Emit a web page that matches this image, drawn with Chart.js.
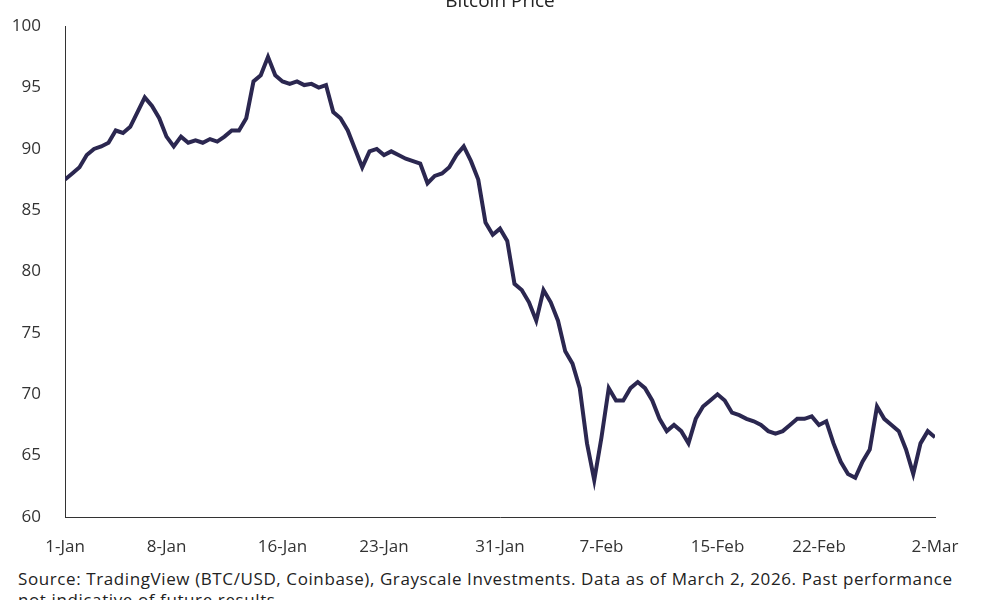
<!DOCTYPE html>
<html><head><meta charset="utf-8">
<script src="https://cdn.jsdelivr.net/npm/chart.js@4"></script>
<style>
body{margin:0;background:#fff;width:1000px;height:600px;overflow:hidden;position:relative;font-family:"Open Sans",sans-serif}
#t{position:absolute;top:-13px;left:0;width:1000px;text-align:center;font-size:19px;color:#222}
#s{position:absolute;top:568px;left:18px;font-size:17px;letter-spacing:0.6px;color:#222;line-height:21px;white-space:nowrap}
#w{position:absolute;top:0;left:0;width:1000px;height:557px}
</style></head><body>
<div id="w"><canvas id="c"></canvas></div>
<div id="t">Bitcoin Price</div>
<div id="s">Source: TradingView (BTC/USD, Coinbase), Grayscale Investments. Data as of March 2, 2026. Past performance<br>not indicative of future results.</div>
<script>
const tickDays=[0,7,15,22,30,37,45,52,60];
const tickLabels=["1-Jan","8-Jan","16-Jan","23-Jan","31-Jan","7-Feb","15-Feb","22-Feb","2-Mar"];
const prices=[87.5,88,88.5,89.5,90,90.2,90.5,91.5,91.3,91.8,93,94.2,93.5,92.5,91,90.2,91,90.5,90.7,90.5,90.8,90.6,91,91.5,91.5,92.5,95.5,96,97.5,96,95.5,95.3,95.5,95.2,95.3,95,95.2,93,92.5,91.5,90,88.5,89.8,90,89.5,89.8,89.5,89.2,89,88.8,87.2,87.8,88,88.5,89.5,90.2,89,87.5,84,83,83.5,82.5,79,78.5,77.5,76,78.5,77.5,76,73.5,72.5,70.5,66,63,66.5,70.5,69.5,69.5,70.5,71,70.5,69.5,68,67,67.5,67,66,68,69,69.5,70,69.5,68.5,68.3,68,67.8,67.5,67,66.8,67,67.5,68,68,68.2,67.5,67.8,66,64.5,63.5,63.2,64.5,65.5,69,68,67.5,67,65.5,63.5,66,67,66.5,67];
const pts=prices.map((v,i)=>({x:i/2,y:v}));
new Chart(document.getElementById('c'),{type:'line',
data:{datasets:[{data:pts,borderColor:'#2b2750',borderWidth:4,pointRadius:0,tension:0}]},
options:{responsive:true,maintainAspectRatio:false,animation:false,
layout:{padding:{top:22,right:65,left:0,bottom:0}},
plugins:{legend:{display:false},tooltip:{enabled:false}},
scales:{
x:{type:'linear',min:0,max:60,grid:{display:false},border:{color:'#333',width:1},
 afterBuildTicks:s=>{s.ticks=tickDays.map(v=>({value:v}))},
 afterFit:s=>{s.height=40},
 ticks:{color:'#333',font:{family:'Open Sans',size:17},padding:12,maxRotation:0,autoSkip:false,callback:(v)=>tickLabels[tickDays.indexOf(v)]}},
y:{min:60,max:100,grid:{display:false},border:{color:'#333',width:1},
 afterFit:s=>{s.width=65},
 ticks:{stepSize:5,color:'#333',font:{family:'Open Sans',size:17},padding:16}}
}}});
</script></body></html>
